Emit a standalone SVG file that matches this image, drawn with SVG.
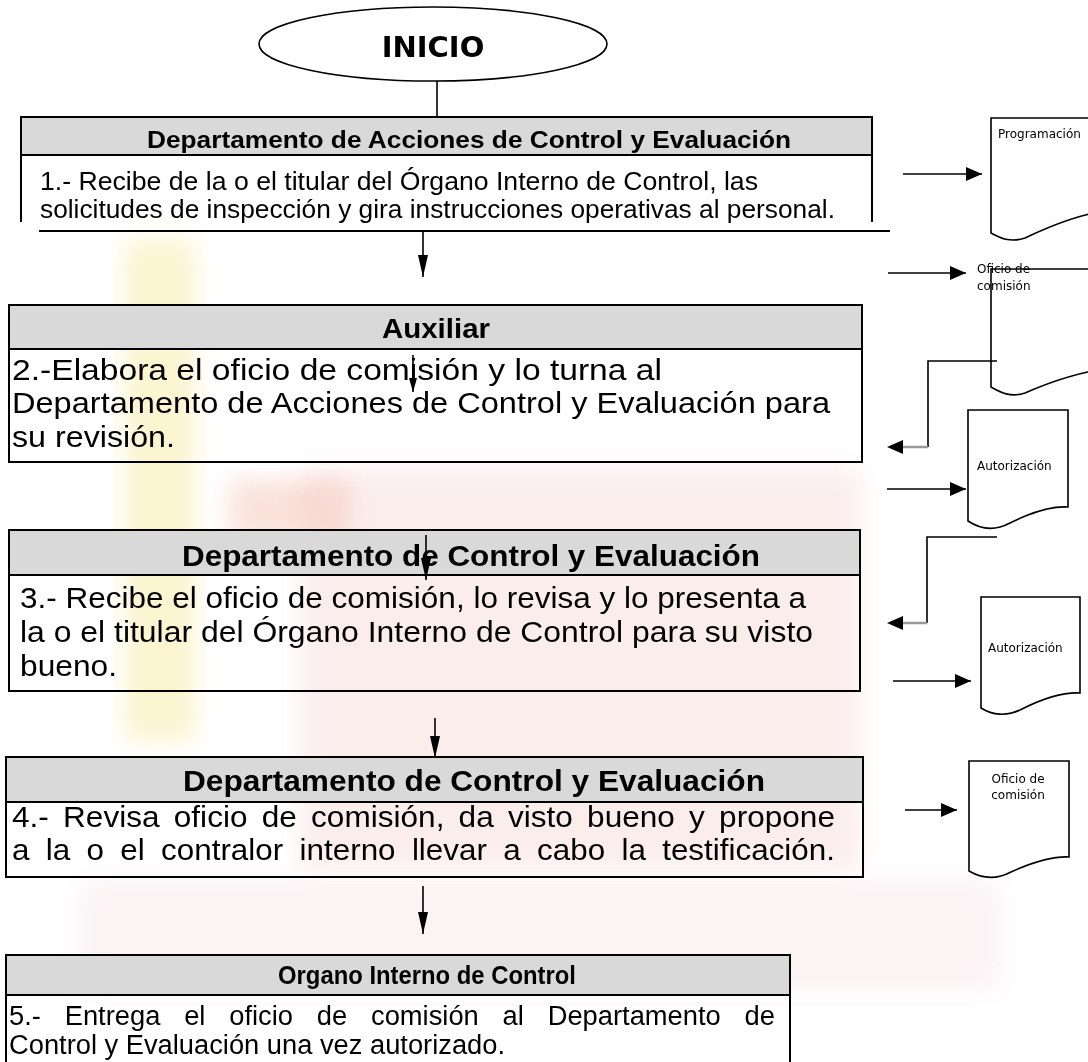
<svg xmlns="http://www.w3.org/2000/svg" width="1088" height="1062" viewBox="0 0 1088 1062">
<defs>
<style>
.hdr{fill:#d9d9d9;stroke:#000;stroke-width:2}
.box{fill:none;stroke:#000;stroke-width:2}
.ln{stroke:#000;stroke-width:1.6;fill:none}
.gr{stroke:#9a9a9a;stroke-width:2.5;fill:none}
.t{font-family:"Liberation Sans",Arial,sans-serif;fill:#000}
.b{font-weight:bold}
.doc{fill:#fff;stroke:#000;stroke-width:1.6}
.dl{font-family:"DejaVu Sans",Verdana,sans-serif;font-size:12px;fill:#000}
.wm{filter:url(#blur)}
</style>
<filter id="blur" x="-20%" y="-20%" width="140%" height="140%"><feGaussianBlur stdDeviation="12"/></filter>
<marker id="ah" markerUnits="userSpaceOnUse" markerWidth="16" markerHeight="14" refX="16" refY="7" orient="auto"><path d="M0,0 L16,7 L0,14 Z" fill="#000"/></marker>
<marker id="av" markerUnits="userSpaceOnUse" markerWidth="22" markerHeight="10" refX="22" refY="5" orient="auto"><path d="M0,0 L22,5 L0,10 Z" fill="#000"/></marker>
<marker id="avs" markerUnits="userSpaceOnUse" markerWidth="14" markerHeight="8" refX="14" refY="4" orient="auto"><path d="M0,0 L14,4 L0,8 Z" fill="#000"/></marker>
</defs>
<rect width="1088" height="1062" fill="#fff"/>
<g id="watermark" opacity="0.5">
<rect class="wm" x="125" y="240" width="70" height="500" fill="#f7eaa0"/>
<rect class="wm" x="300" y="470" width="560" height="400" fill="#f3c4c4" opacity="0.6"/>
<rect class="wm" x="230" y="480" width="120" height="60" fill="#e98a6a" opacity="0.5"/>
<rect class="wm" x="80" y="880" width="920" height="110" fill="#efd0d6" opacity="0.5"/>
</g>
<g id="inicio">
<ellipse cx="433" cy="44" rx="174" ry="37" fill="#fff" stroke="#000" stroke-width="1.6"/>
<text x="433" y="57" text-anchor="middle" font-family="DejaVu Sans,Verdana,sans-serif" font-weight="bold" font-size="29">INICIO</text>
</g>
<g id="n1">
<rect class="hdr" x="21" y="117" width="851" height="38"/>
<path class="box" d="M21,155 V222 M872,155 V222 M39,231 H890"/>
<text class="t b" x="147" y="148" font-size="24" textLength="644" lengthAdjust="spacingAndGlyphs">Departamento de Acciones de Control y Evaluación</text>
<text class="t" x="40" y="190" font-size="26" textLength="718" lengthAdjust="spacingAndGlyphs">1.- Recibe de la o el titular del Órgano Interno de Control, las</text>
<text class="t" x="40" y="218" font-size="26" textLength="795" lengthAdjust="spacingAndGlyphs">solicitudes de inspección y gira instrucciones operativas al personal.</text>
</g>
<g id="n2">
<rect class="hdr" x="9" y="305" width="853" height="44"/>
<rect class="box" x="9" y="349" width="853" height="113"/>
<text class="t b" x="382" y="338" font-size="28" textLength="108" lengthAdjust="spacingAndGlyphs">Auxiliar</text>
<text class="t" x="12" y="380" font-size="30" textLength="650" lengthAdjust="spacingAndGlyphs">2.-Elabora el oficio de comisión y lo turna al</text>
<text class="t" x="12" y="413" font-size="30" textLength="818" lengthAdjust="spacingAndGlyphs">Departamento de Acciones de Control y Evaluación para</text>
<text class="t" x="12" y="447" font-size="30" textLength="163" lengthAdjust="spacingAndGlyphs">su revisión.</text>
</g>
<g id="n3">
<rect class="hdr" x="9" y="530" width="851" height="45"/>
<rect class="box" x="9" y="575" width="851" height="116"/>
<text class="t b" x="182" y="566" font-size="29" textLength="578" lengthAdjust="spacingAndGlyphs">Departamento de Control y Evaluación</text>
<text class="t" x="20" y="608" font-size="30" textLength="786" lengthAdjust="spacingAndGlyphs">3.- Recibe el oficio de comisión, lo revisa y lo presenta a</text>
<text class="t" x="20" y="642" font-size="30" textLength="793" lengthAdjust="spacingAndGlyphs">la o el titular del Órgano Interno de Control para su visto</text>
<text class="t" x="20" y="676" font-size="30" textLength="97" lengthAdjust="spacingAndGlyphs">bueno.</text>
</g>
<g id="n4">
<rect class="hdr" x="6" y="757" width="857" height="45"/>
<rect class="box" x="6" y="802" width="857" height="75"/>
<text class="t b" x="183" y="791" font-size="29" textLength="582" lengthAdjust="spacingAndGlyphs">Departamento de Control y Evaluación</text>
<text class="t" x="12" y="827" font-size="29" word-spacing="5" textLength="823" lengthAdjust="spacingAndGlyphs">4.- Revisa oficio de comisión, da visto bueno y propone</text>
<text class="t" x="12" y="860" font-size="29" word-spacing="7" textLength="823" lengthAdjust="spacingAndGlyphs">a la o el contralor interno llevar a cabo la testificación.</text>
</g>
<g id="n5">
<rect class="hdr" x="6" y="955" width="784" height="40"/>
<path class="box" d="M6,995 V1070 M790,995 V1070"/>
<text class="t b" x="278" y="984" font-size="25" textLength="298" lengthAdjust="spacingAndGlyphs">Organo Interno de Control</text>
<text class="t" x="9" y="1025" font-size="27" word-spacing="16" textLength="766" lengthAdjust="spacingAndGlyphs">5.- Entrega el oficio de comisión al Departamento de</text>
<text class="t" x="9" y="1054" font-size="27" textLength="496" lengthAdjust="spacingAndGlyphs">Control  y Evaluación una vez autorizado.</text>
</g>
<g id="d1">
<path class="doc" d="M991,118 H1110 V210 C1080,214 1050,226 1025,238 C1010,243 1000,238 991,233 Z"/>
<text class="dl" x="998" y="138">Programación</text>
</g>
<g id="d2">
<path class="doc" d="M991,269 H1110 V368 C1080,372 1050,382 1025,393 C1010,398 1000,392 991,387 Z"/>
<text class="dl" x="977" y="273">Oficio de</text>
<text class="dl" x="977" y="290">comisión</text>
</g>
<g id="d3">
<path class="doc" d="M968,410 H1068 V507 C1050,506 1030,513 1010,523 C995,531 980,529 968,521 Z"/>
<text class="dl" x="977" y="470">Autorización</text>
</g>
<g id="d4">
<path class="doc" d="M981,597 H1080 V693 C1062,692 1042,699 1022,709 C1007,717 992,715 981,708 Z"/>
<text class="dl" x="988" y="652">Autorización</text>
</g>
<g id="d5">
<path class="doc" d="M969,761 H1069 V857 C1051,856 1031,863 1011,872 C996,880 981,878 969,871 Z"/>
<text class="dl" x="1018" y="783" text-anchor="middle">Oficio de</text>
<text class="dl" x="1018" y="799" text-anchor="middle">comisión</text>
</g>
<g id="connectors">
<path class="ln" d="M437,81 V117"/>
<path class="ln" d="M423,231 V277" marker-end="url(#av)"/>
<path class="ln" d="M413,355 V392" marker-end="url(#avs)"/>
<path class="ln" d="M426,535 V580" marker-end="url(#av)"/>
<path class="ln" d="M435,718 V758" marker-end="url(#av)"/>
<path class="ln" d="M423,886 V934" marker-end="url(#av)"/>
<path class="ln" d="M903,174 H982" marker-end="url(#ah)"/>
<path class="ln" d="M888,273 H966" marker-end="url(#ah)"/>
<path class="ln" d="M887,489 H966" marker-end="url(#ah)"/>
<path class="ln" d="M893,681 H971" marker-end="url(#ah)"/>
<path class="ln" d="M905,810 H957" marker-end="url(#ah)"/>
<path class="ln" d="M997,361 H928 V447"/>
<path class="gr" d="M928,447 H900"/>
<path d="M903,440 L887,447 L903,454 Z" fill="#000"/>
<path class="ln" d="M997,537 H927 V623"/>
<path class="gr" d="M927,623 H900"/>
<path d="M903,616 L887,623 L903,630 Z" fill="#000"/>
</g>
</svg>
